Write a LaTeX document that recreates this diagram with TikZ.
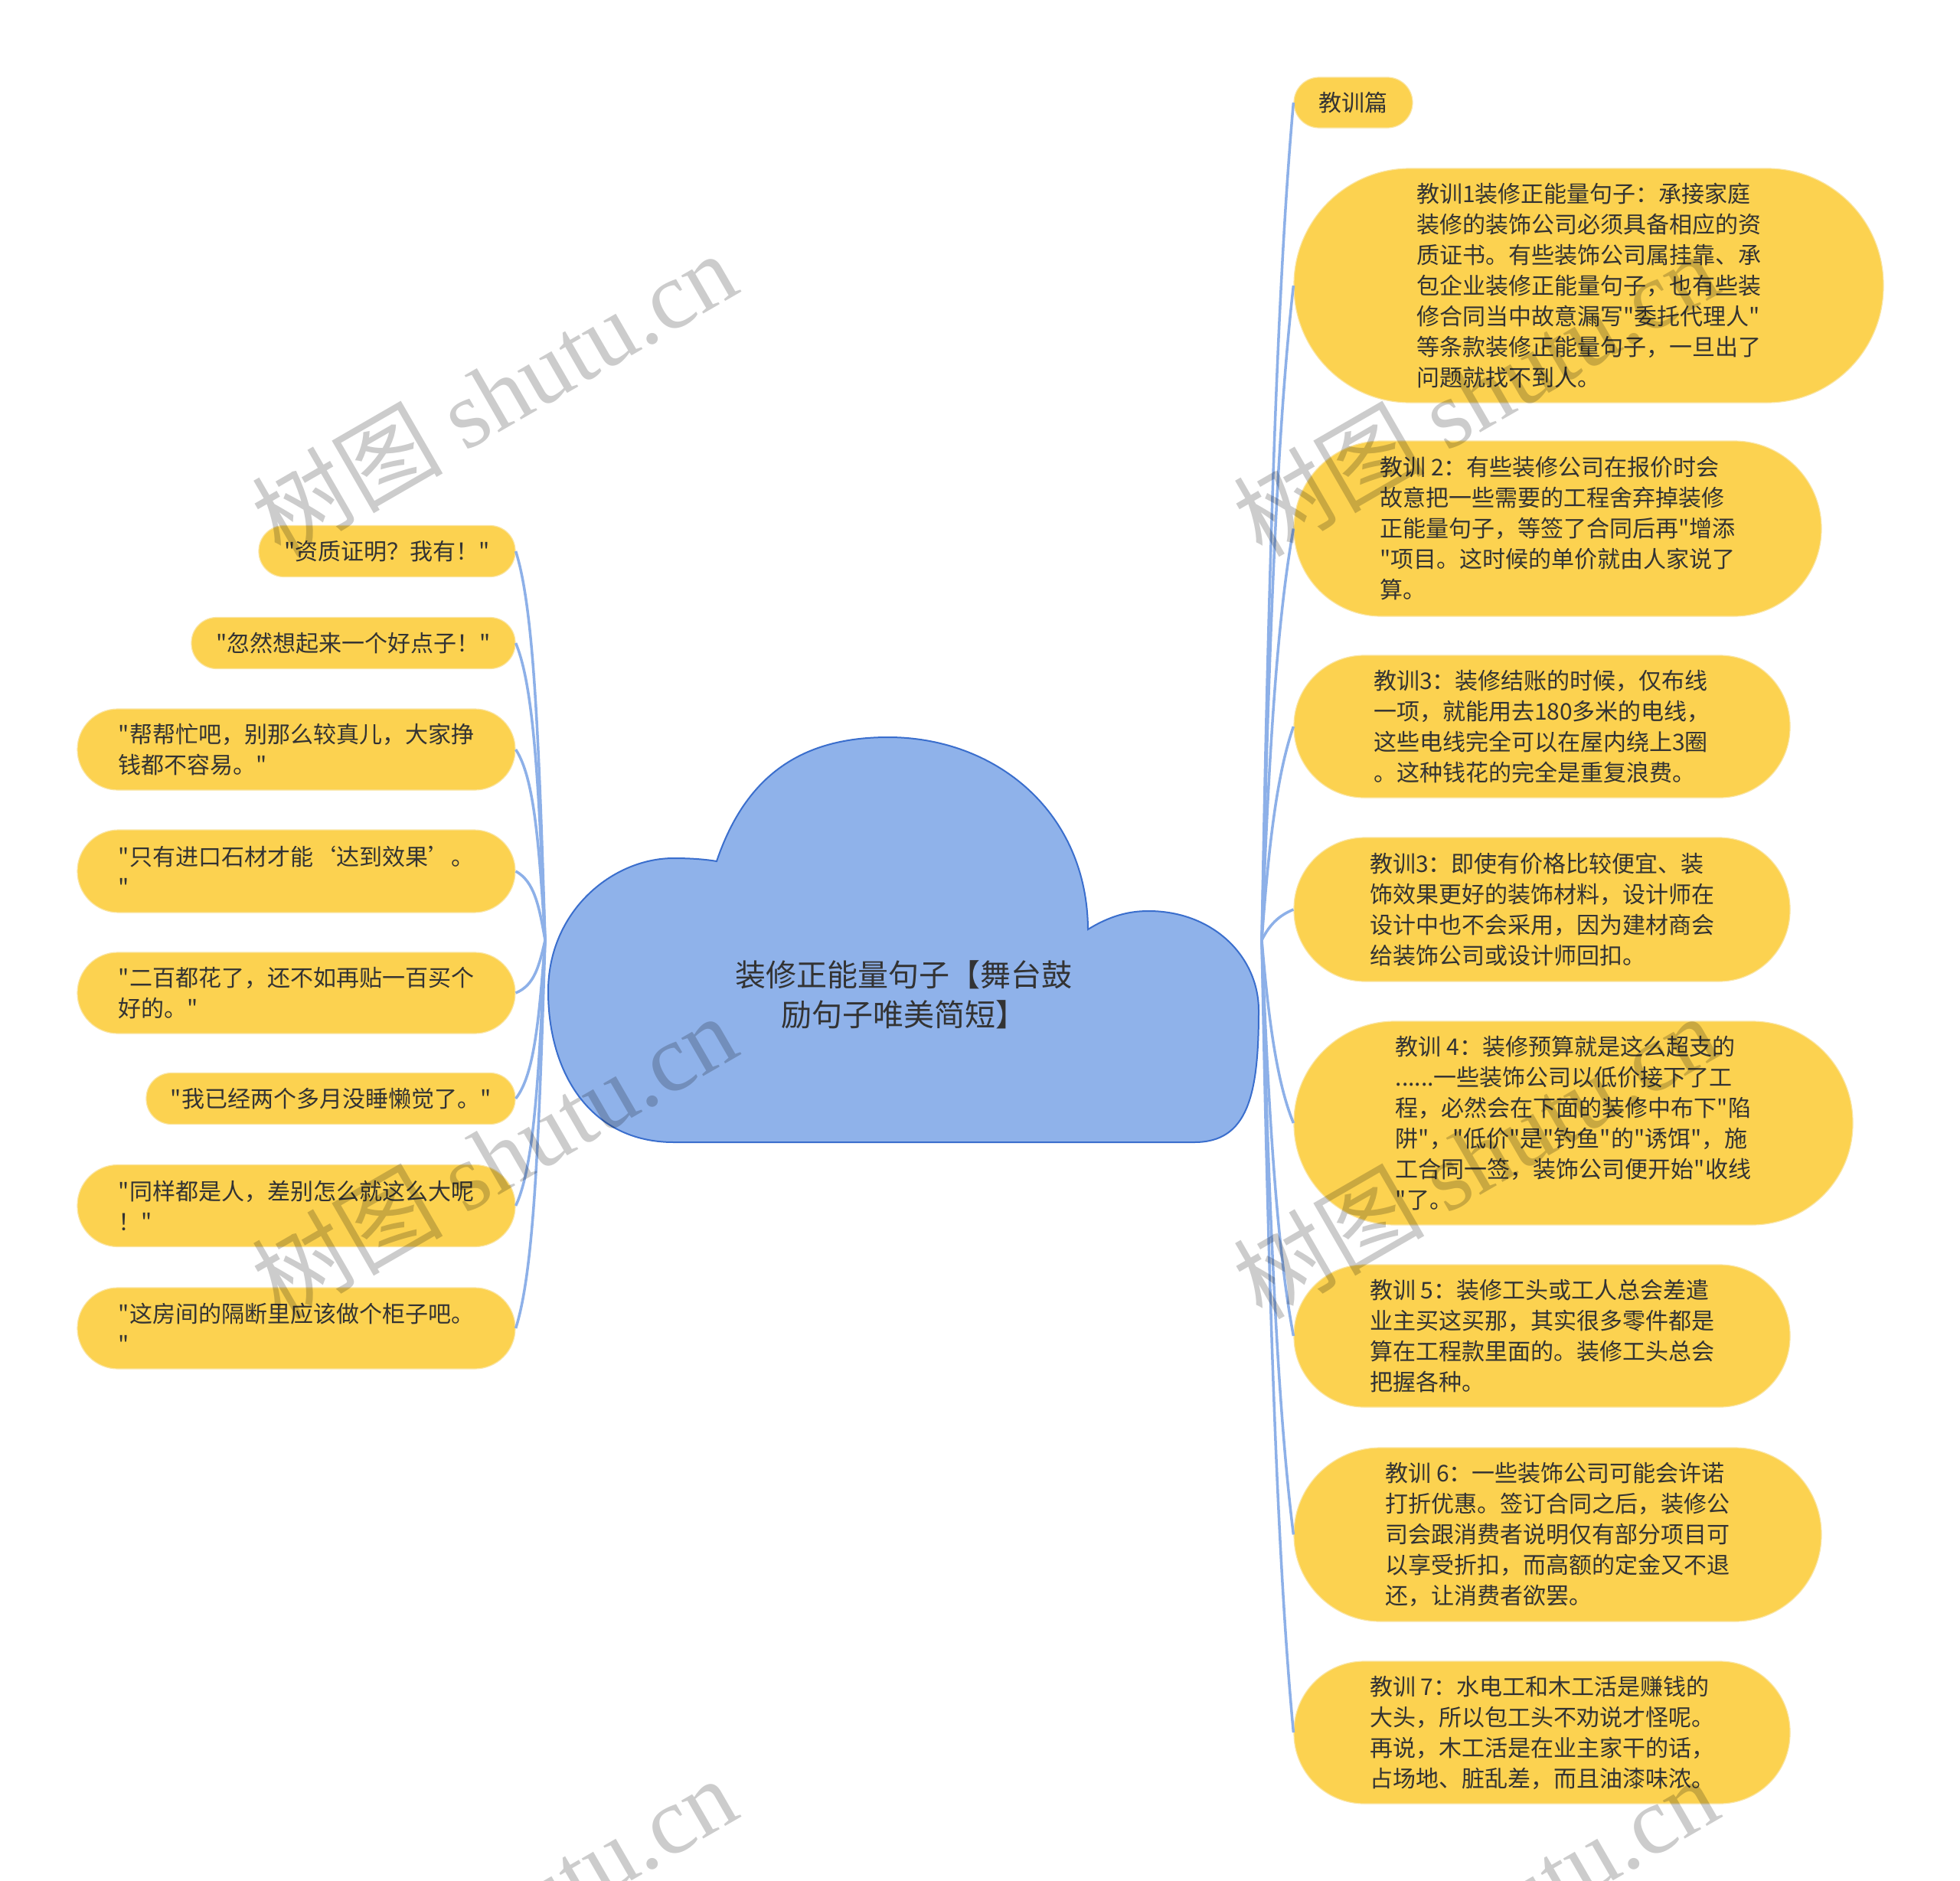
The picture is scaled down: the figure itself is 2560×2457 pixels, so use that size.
\documentclass[tikz,border=0pt]{standalone}
\usepackage{fontspec}
\setmainfont{Noto Sans CJK SC}[Ligatures=TeXOff]
\newfontfamily\wmlatin{Liberation Serif}
\newfontfamily\cjkf{Noto Sans CJK SC}
\definecolor{ybg}{RGB}{252,210,80}
\definecolor{yedge}{RGB}{250,228,160}
\definecolor{lnk}{RGB}{141,176,232}
\definecolor{cloudfill}{RGB}{143,178,234}
\definecolor{cloudedge}{RGB}{58,110,205}
\definecolor{txt}{RGB}{51,51,51}
\begin{document}
\begin{tikzpicture}[x=1pt,y=-1pt,
  bubble/.style={fill=ybg, draw=yedge, line width=1.2pt, rounded corners=#1, text=txt, align=left, inner sep=0pt, font=\fontsize{30}{40}\selectfont},
  link/.style={draw=lnk, line width=3.5pt},
  wm/.style={text=black, opacity=0.2, rotate=30, font=\fontsize{125}{125}\selectfont, inner sep=0pt}
]
\useasboundingbox (0,0) rectangle (2560,2457);
\fill[white] (0,0) rectangle (2560,2457);

% junctions
\coordinate (JL) at (712,1228);
\coordinate (JR) at (1648,1228);

% left nodes
\node[bubble=33, minimum width=335pt, minimum height=67pt] (l1) at (505.5,720) {"资质证明？我有！"};
\node[bubble=33, minimum width=423pt, minimum height=67pt] (l2) at (461.5,840) {"忽然想起来一个好点子！"};
\node[bubble=53, minimum width=572pt, minimum height=106pt] (l3) at (387,979) {"帮帮忙吧，别那么较真儿，大家挣\\钱都不容易。"};
\node[bubble=54, minimum width=572pt, minimum height=108pt] (l4) at (387,1138) {"只有进口石材才能‘达到效果’。\\"};
\node[bubble=53, minimum width=572pt, minimum height=106pt] (l5) at (387,1297) {"二百都花了，还不如再贴一百买个\\好的。"};
\node[bubble=33, minimum width=482pt, minimum height=67pt] (l6) at (432,1435) {"我已经两个多月没睡懒觉了。"};
\node[bubble=53, minimum width=572pt, minimum height=107pt] (l7) at (387,1575) {"同样都是人，差别怎么就这么大呢\\！"};
\node[bubble=53, minimum width=572pt, minimum height=106pt] (l8) at (387,1735) {"这房间的隔断里应该做个柜子吧。\\"};

% right nodes
\node[bubble=33, minimum width=155pt, minimum height=66pt] (r0) at (1767.5,134) {教训篇};
\node[bubble=152, minimum width=770pt, minimum height=306pt] (r1) at (2075,373) {教训1装修正能量句子：承接家庭\\装修的装饰公司必须具备相应的资\\质证书。有些装饰公司属挂靠、承\\包企业装修正能量句子，也有些装\\修合同当中故意漏写"委托代理人"\\等条款装修正能量句子，一旦出了\\问题就找不到人。};
\node[bubble=114, minimum width=689pt, minimum height=229pt] (r2) at (2034.5,690.5) {教训 2：有些装修公司在报价时会\\故意把一些需要的工程舍弃掉装修\\正能量句子，等签了合同后再"增添\\"项目。这时候的单价就由人家说了\\算。};
\node[bubble=92, minimum width=648pt, minimum height=186pt] (r3) at (2014,949) {教训3：装修结账的时候，仅布线\\一项，就能用去180多米的电线，\\这些电线完全可以在屋内绕上3圈\\。这种钱花的完全是重复浪费。};
\node[bubble=93, minimum width=648pt, minimum height=188pt] (r4) at (2014,1188) {教训3：即使有价格比较便宜、装\\饰效果更好的装饰材料，设计师在\\设计中也不会采用，因为建材商会\\给装饰公司或设计师回扣。};
\node[bubble=132, minimum width=730pt, minimum height=266pt] (r5) at (2055,1467) {教训 4：装修预算就是这么超支的\\......一些装饰公司以低价接下了工\\程，必然会在下面的装修中布下"陷\\阱"，"低价"是"钓鱼"的"诱饵"，施\\工合同一签，装饰公司便开始"收线\\"了。};
\node[bubble=92, minimum width=648pt, minimum height=186pt] (r6) at (2014,1745) {教训 5：装修工头或工人总会差遣\\业主买这买那，其实很多零件都是\\算在工程款里面的。装修工头总会\\把握各种。};
\node[bubble=113, minimum width=689pt, minimum height=227pt] (r7) at (2034.5,2004.5) {教训 6：一些装饰公司可能会许诺\\打折优惠。签订合同之后，装修公\\司会跟消费者说明仅有部分项目可\\以享受折扣，而高额的定金又不退\\还，让消费者欲罢。};
\node[bubble=92, minimum width=648pt, minimum height=186pt] (r8) at (2014,2263) {教训 7：水电工和木工活是赚钱的\\大头，所以包工头不劝说才怪呢。\\再说，木工活是在业主家干的话，\\占场地、脏乱差，而且油漆味浓。};

% left connectors
\draw[link] (JL) .. controls (704,974) and (698,796) .. (l1.east);
\draw[link] (JL) .. controls (704,1034) and (698,898) .. (l2.east);
\draw[link] (JL) .. controls (704,1103.5) and (698,1016) .. (l3.east);
\draw[link] (JL) .. controls (704,1183) and (698,1151.5) .. (l4.east);
\draw[link] (JL) .. controls (704,1262.5) and (698,1287) .. (l5.east);
\draw[link] (JL) .. controls (704,1331.5) and (698,1404) .. (l6.east);
\draw[link] (JL) .. controls (704,1401.5) and (698,1523) .. (l7.east);
\draw[link] (JL) .. controls (704,1481.5) and (698,1659) .. (l8.east);

% right connectors
\draw[link] (JR) .. controls (1658,681) and (1670,352.8) .. (r0.west);
\draw[link] (JR) .. controls (1658,800.5) and (1670,544) .. (r1.west);
\draw[link] (JR) .. controls (1658,959) and (1670,798) .. (r2.west);
\draw[link] (JR) .. controls (1658,1088.5) and (1670,1004.8) .. (r3.west);
\draw[link] (JR) .. controls (1658,1208) and (1670,1196) .. (r4.west);
\draw[link] (JR) .. controls (1658,1347.5) and (1670,1419.2) .. (r5.west);
\draw[link] (JR) .. controls (1658,1486.5) and (1670,1641.6) .. (r6.west);
\draw[link] (JR) .. controls (1658,1616) and (1670,1849.2) .. (r7.west);
\draw[link] (JR) .. controls (1658,1745.5) and (1670,2056) .. (r8.west);

% cloud
\draw[fill=cloudfill, draw=cloudedge, line width=2pt]
  (936,1125) .. controls (975,1010) and (1050,963) .. (1160,963)
  .. controls (1300,963) and (1420,1060) .. (1421,1214)
  .. controls (1450,1196) and (1475,1190) .. (1500,1190)
  .. controls (1585,1190) and (1644,1250) .. (1644,1320)
  .. controls (1644,1430) and (1630,1492) .. (1560,1492)
  -- (880,1492)
  .. controls (770,1492) and (716,1400) .. (716,1295)
  .. controls (716,1190) and (800,1121) .. (880,1121)
  .. controls (905,1121) and (925,1123) .. (936,1125) -- cycle;
\node[font=\fontsize{40}{52}\selectfont, text=txt, align=center, inner sep=0pt] (root) at (1180,1299) {装修正能量句子【舞台鼓\\励句子唯美简短】};

% watermarks
\node[wm] (wm1) at (645,514) {\cjkf 树图 \wmlatin shutu.cn};
\node[wm] (wm2) at (645,1510) {\cjkf 树图 \wmlatin shutu.cn};
\node[wm] (wm3) at (645,2506) {\cjkf 树图 \wmlatin shutu.cn};
\node[wm] (wm4) at (1927,514) {\cjkf 树图 \wmlatin shutu.cn};
\node[wm] (wm5) at (1927,1510) {\cjkf 树图 \wmlatin shutu.cn};
\node[wm] (wm6) at (1927,2506) {\cjkf 树图 \wmlatin shutu.cn};
\end{tikzpicture}
\end{document}
